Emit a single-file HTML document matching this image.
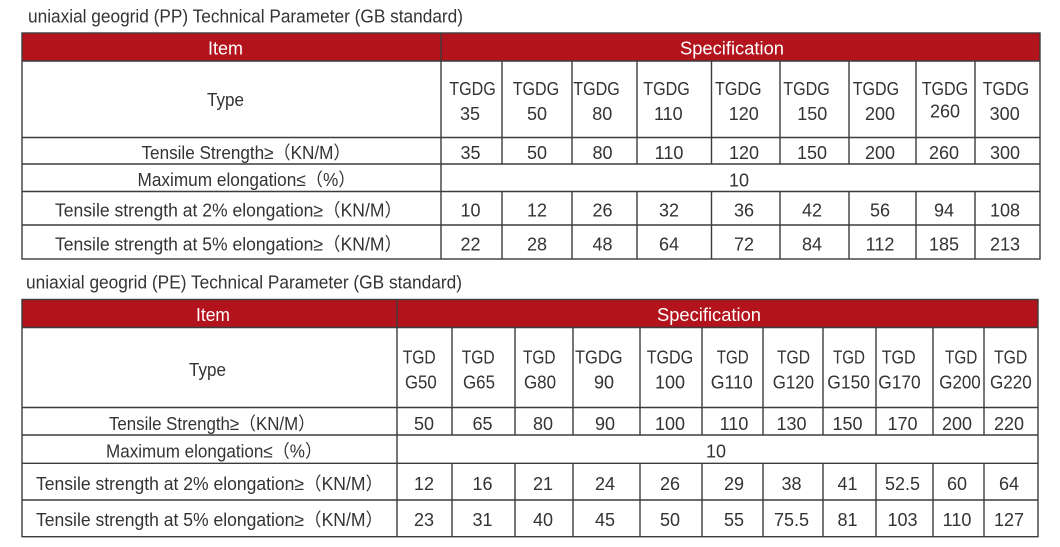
<!DOCTYPE html>
<html>
<head>
<meta charset="utf-8">
<style>
html,body{margin:0;padding:0;background:#fff;}
svg{display:block;}
text{font-family:"Liberation Sans","Noto Sans CJK SC",sans-serif;font-size:18px;fill:#333;}
.w{fill:#fff;}
.m{text-anchor:middle;}
.ln{stroke:#3c3c3c;stroke-width:1.4;fill:none;}
</style>
</head>
<body>
<svg width="1060" height="547" viewBox="0 0 1060 547" xmlns="http://www.w3.org/2000/svg">
<rect x="0" y="0" width="1060" height="547" fill="#fff"/>

<!-- ================= TABLE 1 ================= -->
<text x="28" y="22.5" textLength="435" lengthAdjust="spacingAndGlyphs">uniaxial geogrid (PP) Technical Parameter (GB standard)</text>

<rect x="22" y="33" width="1018" height="28" fill="#b3131c"/>
<rect class="ln" x="22" y="33" width="1018" height="226"/>
<g class="ln">
<line x1="22" y1="61" x2="1040" y2="61"/>
<line x1="22" y1="137.5" x2="1040" y2="137.5"/>
<line x1="22" y1="164" x2="1040" y2="164"/>
<line x1="22" y1="191.5" x2="1040" y2="191.5"/>
<line x1="22" y1="225" x2="1040" y2="225"/>
<line x1="441" y1="33" x2="441" y2="259"/>
</g>
<g class="ln">
<path d="M502 61V164M572 61V164M637 61V164M711.5 61V164M780 61V164M849 61V164M916 61V164M975 61V164"/>
<path d="M502 191.5V259M572 191.5V259M637 191.5V259M711.5 191.5V259M780 191.5V259M849 191.5V259M916 191.5V259M975 191.5V259"/>
</g>

<text class="w" x="208" y="54.5" textLength="35" lengthAdjust="spacingAndGlyphs">Item</text>
<text class="w" x="680" y="54.5" textLength="104" lengthAdjust="spacingAndGlyphs">Specification</text>
<text x="207" y="106" textLength="37" lengthAdjust="spacingAndGlyphs">Type</text>
<text x="141.5" y="159" textLength="209" lengthAdjust="spacingAndGlyphs">Tensile Strength≥（KN/M）</text>
<text x="137.5" y="186" textLength="218" lengthAdjust="spacingAndGlyphs">Maximum elongation≤（%）</text>
<text x="55" y="216.5" textLength="347" lengthAdjust="spacingAndGlyphs">Tensile strength at 2% elongation≥（KN/M）</text>
<text x="55" y="250.5" textLength="347" lengthAdjust="spacingAndGlyphs">Tensile strength at 5% elongation≥（KN/M）</text>

<!-- type row -->
<g>
<text x="449.3" y="95" textLength="46.5" lengthAdjust="spacingAndGlyphs">TGDG</text>
<text x="512.7" y="95" textLength="46.5" lengthAdjust="spacingAndGlyphs">TGDG</text>
<text x="573.3" y="95" textLength="46.5" lengthAdjust="spacingAndGlyphs">TGDG</text>
<text x="643.3" y="95" textLength="46.5" lengthAdjust="spacingAndGlyphs">TGDG</text>
<text x="715" y="95" textLength="46.5" lengthAdjust="spacingAndGlyphs">TGDG</text>
<text x="783.3" y="95" textLength="46.5" lengthAdjust="spacingAndGlyphs">TGDG</text>
<text x="852.7" y="95" textLength="46.5" lengthAdjust="spacingAndGlyphs">TGDG</text>
<text x="921.7" y="95" textLength="46.5" lengthAdjust="spacingAndGlyphs">TGDG</text>
<text x="982.7" y="95" textLength="46.5" lengthAdjust="spacingAndGlyphs">TGDG</text>
</g>
<g class="m">
<text class="m" x="470" y="120">35</text>
<text class="m" x="537" y="120">50</text>
<text class="m" x="602.3" y="120">80</text>
<text class="m" x="668.3" y="120">110</text>
<text class="m" x="743.8" y="120">120</text>
<text class="m" x="812.3" y="120">150</text>
<text class="m" x="880" y="120">200</text>
<text class="m" x="945" y="117.5">260</text>
<text class="m" x="1004.7" y="120">300</text>
</g>
<!-- tensile -->
<text class="m" x="470.5" y="159">35</text>
<text class="m" x="537" y="159">50</text>
<text class="m" x="602.5" y="159">80</text>
<text class="m" x="669" y="159">110</text>
<text class="m" x="744" y="159">120</text>
<text class="m" x="812" y="159">150</text>
<text class="m" x="880" y="159">200</text>
<text class="m" x="944" y="159">260</text>
<text class="m" x="1005" y="159">300</text>
<!-- max elong -->
<text class="m" x="739" y="186.5">10</text>
<!-- 2% -->
<text class="m" x="470.5" y="216.5">10</text>
<text class="m" x="537" y="216.5">12</text>
<text class="m" x="602.5" y="216.5">26</text>
<text class="m" x="669" y="216.5">32</text>
<text class="m" x="744" y="216.5">36</text>
<text class="m" x="812" y="216.5">42</text>
<text class="m" x="880" y="216.5">56</text>
<text class="m" x="944" y="216.5">94</text>
<text class="m" x="1005" y="216.5">108</text>
<!-- 5% -->
<text class="m" x="470.5" y="250.5">22</text>
<text class="m" x="537" y="250.5">28</text>
<text class="m" x="602.5" y="250.5">48</text>
<text class="m" x="669" y="250.5">64</text>
<text class="m" x="744" y="250.5">72</text>
<text class="m" x="812" y="250.5">84</text>
<text class="m" x="880" y="250.5">112</text>
<text class="m" x="944" y="250.5">185</text>
<text class="m" x="1005" y="250.5">213</text>

<!-- ================= TABLE 2 ================= -->
<text x="26" y="288.5" textLength="436" lengthAdjust="spacingAndGlyphs">uniaxial geogrid (PE) Technical Parameter (GB standard)</text>

<rect x="22" y="299.5" width="1016" height="28" fill="#b3131c"/>
<rect class="ln" x="22" y="299.5" width="1016" height="237.2"/>
<g class="ln">
<line x1="22" y1="327.5" x2="1038" y2="327.5"/>
<line x1="22" y1="407.5" x2="1038" y2="407.5"/>
<line x1="22" y1="435" x2="1038" y2="435"/>
<line x1="22" y1="463.3" x2="1038" y2="463.3"/>
<line x1="22" y1="500" x2="1038" y2="500"/>
<line x1="397" y1="299.5" x2="397" y2="536.7"/>
</g>
<g class="ln">
<path d="M452 327.5V435M515 327.5V435M573 327.5V435M640 327.5V435M702 327.5V435M763 327.5V435M823 327.5V435M876 327.5V435M933 327.5V435M984 327.5V435"/>
<path d="M452 463.3V536.7M515 463.3V536.7M573 463.3V536.7M640 463.3V536.7M702 463.3V536.7M763 463.3V536.7M823 463.3V536.7M876 463.3V536.7M933 463.3V536.7M984 463.3V536.7"/>
</g>

<text class="w" x="196" y="321" textLength="34" lengthAdjust="spacingAndGlyphs">Item</text>
<text class="w" x="657" y="321" textLength="104" lengthAdjust="spacingAndGlyphs">Specification</text>
<text x="189" y="376" textLength="37" lengthAdjust="spacingAndGlyphs">Type</text>
<text x="109" y="430" textLength="206" lengthAdjust="spacingAndGlyphs">Tensile Strength≥（KN/M）</text>
<text x="106" y="457.3" textLength="216" lengthAdjust="spacingAndGlyphs">Maximum elongation≤（%）</text>
<text x="36" y="490" textLength="347" lengthAdjust="spacingAndGlyphs">Tensile strength at 2% elongation≥（KN/M）</text>
<text x="36" y="526" textLength="347" lengthAdjust="spacingAndGlyphs">Tensile strength at 5% elongation≥（KN/M）</text>

<!-- type row line 1 -->
<text x="402.7" y="363.3" textLength="33" lengthAdjust="spacingAndGlyphs">TGD</text>
<text x="461.7" y="363.3" textLength="33" lengthAdjust="spacingAndGlyphs">TGD</text>
<text x="523" y="363.3" textLength="32.5" lengthAdjust="spacingAndGlyphs">TGD</text>
<text x="575" y="363.3" textLength="47.5" lengthAdjust="spacingAndGlyphs">TGDG</text>
<text x="646.7" y="363.3" textLength="46.5" lengthAdjust="spacingAndGlyphs">TGDG</text>
<text x="716.7" y="363.3" textLength="32" lengthAdjust="spacingAndGlyphs">TGD</text>
<text x="777" y="363.3" textLength="33" lengthAdjust="spacingAndGlyphs">TGD</text>
<text x="833" y="363.3" textLength="32" lengthAdjust="spacingAndGlyphs">TGD</text>
<text x="881.7" y="363.3" textLength="34" lengthAdjust="spacingAndGlyphs">TGD</text>
<text x="945" y="363.3" textLength="32.3" lengthAdjust="spacingAndGlyphs">TGD</text>
<text x="994" y="363.3" textLength="33.3" lengthAdjust="spacingAndGlyphs">TGD</text>
<!-- type row line 2 -->
<text x="405" y="388.3" textLength="31.7" lengthAdjust="spacingAndGlyphs">G50</text>
<text x="463" y="388.3" textLength="32" lengthAdjust="spacingAndGlyphs">G65</text>
<text x="524" y="388.3" textLength="32" lengthAdjust="spacingAndGlyphs">G80</text>
<text class="m" x="604" y="388.3">90</text>
<text class="m" x="670" y="388.3">100</text>
<text x="710.7" y="388.3" textLength="42" lengthAdjust="spacingAndGlyphs">G110</text>
<text x="772.7" y="388.3" textLength="41.3" lengthAdjust="spacingAndGlyphs">G120</text>
<text x="827.3" y="388.3" textLength="42.7" lengthAdjust="spacingAndGlyphs">G150</text>
<text x="878.3" y="388.3" textLength="42.4" lengthAdjust="spacingAndGlyphs">G170</text>
<text x="939.3" y="388.3" textLength="41.4" lengthAdjust="spacingAndGlyphs">G200</text>
<text x="990" y="388.3" textLength="41.7" lengthAdjust="spacingAndGlyphs">G220</text>

<!-- tensile -->
<text class="m" x="424" y="430">50</text>
<text class="m" x="482.5" y="430">65</text>
<text class="m" x="543" y="430">80</text>
<text class="m" x="605" y="430">90</text>
<text class="m" x="670" y="430">100</text>
<text class="m" x="734" y="430">110</text>
<text class="m" x="791.5" y="430">130</text>
<text class="m" x="847.5" y="430">150</text>
<text class="m" x="902.5" y="430">170</text>
<text class="m" x="957" y="430">200</text>
<text class="m" x="1009" y="430">220</text>
<!-- max -->
<text class="m" x="716" y="457.5">10</text>
<!-- 2% -->
<text class="m" x="424" y="490">12</text>
<text class="m" x="482.5" y="490">16</text>
<text class="m" x="543" y="490">21</text>
<text class="m" x="605" y="490">24</text>
<text class="m" x="670" y="490">26</text>
<text class="m" x="734" y="490">29</text>
<text class="m" x="791.5" y="490">38</text>
<text class="m" x="847.5" y="490">41</text>
<text class="m" x="902.5" y="490">52.5</text>
<text class="m" x="957" y="490">60</text>
<text class="m" x="1009" y="490">64</text>
<!-- 5% -->
<text class="m" x="424" y="526">23</text>
<text class="m" x="482.5" y="526">31</text>
<text class="m" x="543" y="526">40</text>
<text class="m" x="605" y="526">45</text>
<text class="m" x="670" y="526">50</text>
<text class="m" x="734" y="526">55</text>
<text class="m" x="791.5" y="526">75.5</text>
<text class="m" x="847.5" y="526">81</text>
<text class="m" x="902.5" y="526">103</text>
<text class="m" x="957" y="526">110</text>
<text class="m" x="1009" y="526">127</text>
</svg>
</body>
</html>
